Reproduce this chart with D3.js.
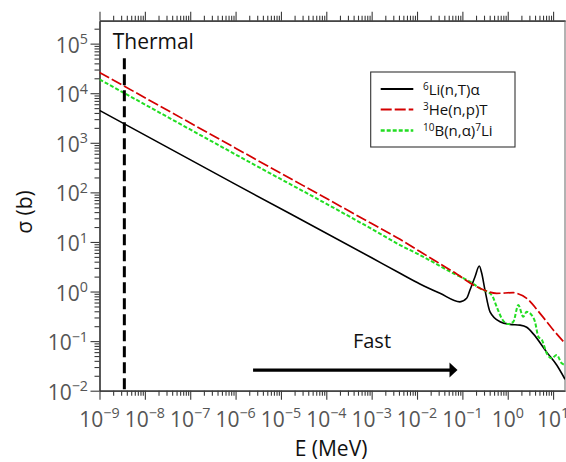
<!DOCTYPE html>
<html><head><meta charset="utf-8">
<script src="https://cdn.jsdelivr.net/npm/d3@7"></script>
<style>
body{margin:0;background:#fff}
svg{display:block}
text{font-family:"Open Sans",sans-serif}
</style>
</head><body>
<svg id="chart" width="566" height="462"></svg>
<script>
// ---- data ----
const liE     = [1e-9, 1e-6, 1e-3, 4.22e-3, 0.0116, 0.0321, 0.0885, 0.124, 0.147, 0.19, 0.236, 0.267, 0.315, 0.407, 0.675, 1.12, 1.86, 2.62, 3.66, 7.23, 12.0, 18.3];
const liSigma = [4500, 145, 4.8, 2.33, 1.42, 0.92, 0.62, 0.73, 1.07, 1.99, 3.27, 2.33, 1.07, 0.39, 0.246, 0.218, 0.21, 0.19, 0.14, 0.06, 0.033, 0.017];

const heE     = [1e-9, 1e-6, 1e-3, 4.22e-3, 0.0116, 0.063, 0.244, 0.571, 1.33, 1.57, 2.62, 5.14, 10.1, 18.3];
const heSigma = [26300, 780, 23.5, 11.3, 6.4, 2.5, 1.16, 0.92, 0.95, 0.92, 0.73, 0.363, 0.168, 0.09];

const bE      = [1e-9, 1e-6, 1e-3, 4.22e-3, 0.0116, 0.063, 0.147, 0.244, 0.443, 0.571, 0.736, 1.03, 1.33, 1.71, 2.20, 2.62, 3.37, 3.99, 4.72, 5.69, 7.23, 9.31, 12.0, 15.5, 18.3];
const bSigma  = [19000, 581, 18.3, 8.65, 5.45, 2.33, 1.58, 1.16, 0.85, 0.494, 0.288, 0.221, 0.246, 0.534, 0.31, 0.39, 0.336, 0.246, 0.123, 0.105, 0.0568, 0.045, 0.0525, 0.0357, 0.033];

const seriesNames = ["6Li(n,T)α", "3He(n,p)T", "10B(n,α)7Li"];
const xTickPowers = [-9, -8, -7, -6, -5, -4, -3, -2, -1, 0, 1];
const yTickPowers = [-2, -1, 0, 1, 2, 3, 4, 5];

// annotation anchors (data units)
const thermalE = 3.53e-9;
const fastStartE = 2.43e-6, fastEndE = 0.078, fastSigma = 0.0261;

// ---- layout ----
const svg = d3.select("#chart");
const L = 99.5, R = 565, T = 20.7, B = 390.7;
const x = d3.scaleLog().domain([1e-9, 18.3]).range([L, R]);
const y = d3.scaleLog().domain([1e-2, 2.9e5]).range([B, T]);

const axisCol = "#3a3a3a", labCol = "#555";

const isPow = v => Math.abs(Math.log10(v) - Math.round(Math.log10(v))) < 1e-6;
const xMinor = x.ticks(50).filter(v => !isPow(v));
const yMinor = y.ticks(50).filter(v => !isPow(v));
const xMajor = xTickPowers.map(p => Math.pow(10, p));
const yMajor = yTickPowers.map(p => Math.pow(10, p));

function styleAxis(g){
  g.select(".domain").attr("stroke", axisCol).attr("stroke-width", 1.2);
  g.selectAll(".tick line").attr("stroke", axisCol).attr("stroke-width", 1.1);
  g.selectAll(".tick text").remove();
}
// bottom
svg.append("g").attr("transform", `translate(0,${B})`)
  .call(d3.axisBottom(x).tickValues(xMinor).tickSize(5).tickSizeOuter(0).tickFormat("")).call(styleAxis);
svg.append("g").attr("transform", `translate(0,${B})`)
  .call(d3.axisBottom(x).tickValues(xMajor).tickSize(9).tickSizeOuter(0).tickFormat("")).call(styleAxis);
// top
svg.append("g").attr("transform", `translate(0,${T})`)
  .call(d3.axisTop(x).tickValues(xMinor).tickSize(5).tickSizeOuter(0).tickFormat("")).call(styleAxis);
svg.append("g").attr("transform", `translate(0,${T})`)
  .call(d3.axisTop(x).tickValues(xMajor).tickSize(9).tickSizeOuter(0).tickFormat("")).call(styleAxis);
// left
svg.append("g").attr("transform", `translate(${L},0)`)
  .call(d3.axisLeft(y).tickValues(yMinor).tickSize(5).tickSizeOuter(0).tickFormat("")).call(styleAxis);
svg.append("g").attr("transform", `translate(${L},0)`)
  .call(d3.axisLeft(y).tickValues(yMajor).tickSize(9).tickSizeOuter(0).tickFormat("")).call(styleAxis);
// right border
svg.append("line").attr("x1", R).attr("x2", R).attr("y1", T).attr("y2", B)
  .attr("stroke", "#666").attr("stroke-width", 1);

function supLabel(sel, p, size){
  sel.append("tspan").text("10");
  sel.append("tspan").attr("font-size", size*0.68).attr("dy", -size*0.4)
    .text(p < 0 ? "\u2212" + (-p) : String(p));
}
// x tick labels
xTickPowers.forEach(p => {
  const t = svg.append("text").attr("x", x(Math.pow(10,p))).attr("y", B + 36)
    .attr("text-anchor", "middle").attr("font-size", 21).attr("fill", labCol);
  supLabel(t, p, 21);
});
// y tick labels
yTickPowers.forEach(p => {
  const t = svg.append("text").attr("x", 88).attr("y", y(Math.pow(10,p)) + 9)
    .attr("text-anchor", "end").attr("font-size", 21).attr("fill", labCol);
  supLabel(t, p, 21);
});

// axis titles
svg.append("text").attr("x", 331).attr("y", 455.5).attr("text-anchor", "middle")
  .attr("font-size", 21).attr("fill", "#111").text("E (MeV)");
svg.append("text").attr("transform", "translate(32,212) rotate(-90)").attr("text-anchor", "middle")
  .attr("font-size", 21).attr("fill", "#111").text("σ (b)");

// curves
const line = d3.line().x(d => x(d[0])).y(d => y(d[1])).curve(d3.curveMonotoneX);
svg.append("clipPath").attr("id", "clip").append("rect")
  .attr("x", L).attr("y", T).attr("width", R - L).attr("height", B - T);
const series = [
  {E: liE, S: liSigma, color: "#000000", dash: null, w: 1.6},
  {E: heE, S: heSigma, color: "#d40000", dash: "11,3", w: 1.7},
  {E: bE,  S: bSigma,  color: "#22dd22", dash: "4,2", w: 2}
];
const plotG = svg.append("g").attr("clip-path", "url(#clip)");
[series[0], series[2], series[1]].forEach(s => {
  plotG.append("path").datum(s.E.map((e,i) => [e, s.S[i]]))
    .attr("d", line).attr("fill", "none").attr("stroke", s.color)
    .attr("stroke-width", s.w).attr("stroke-dasharray", s.dash);
});

// thermal marker
svg.append("line").attr("x1", x(thermalE)).attr("x2", x(thermalE))
  .attr("y1", 58.3).attr("y2", B).attr("stroke", "#000").attr("stroke-width", 3)
  .attr("stroke-dasharray", "11,5");
svg.append("text").attr("x", 112.7).attr("y", 49.3).attr("font-size", 21)
  .attr("fill", "#111").text("Thermal");

// fast arrow
const ay = y(fastSigma), ax0 = x(fastStartE), ax1 = x(fastEndE);
svg.append("line").attr("x1", ax0).attr("x2", ax1 - 6).attr("y1", ay).attr("y2", ay)
  .attr("stroke", "#000").attr("stroke-width", 3.2);
svg.append("path").attr("d", `M${ax1},${ay} L${ax1-8},${ay-7.5} L${ax1-8},${ay+7.5} Z`).attr("fill", "#000");
svg.append("text").attr("x", 372).attr("y", 348.3).attr("text-anchor", "middle")
  .attr("font-size", 20).attr("fill", "#111").text("Fast");

// legend
const lg = svg.append("g");
lg.append("rect").attr("x", 370.7).attr("y", 72).attr("width", 144.3).attr("height", 75)
  .attr("fill", "#fff").attr("stroke", "#333").attr("stroke-width", 1.1);
const legendParts = [
  [["6", true], ["Li(n,T)α", false]],
  [["3", true], ["He(n,p)T", false]],
  [["10", true], ["B(n,α)", false], ["7", true], ["Li", false]]
];
const rowsY = [89, 109.5, 130.5];
series.forEach((s, i) => {
  lg.append("line").attr("x1", 380.7).attr("x2", 413.3).attr("y1", rowsY[i]).attr("y2", rowsY[i])
    .attr("stroke", s.color).attr("stroke-width", s.w + 0.3).attr("stroke-dasharray", s.dash);
  const t = lg.append("text").attr("x", 423).attr("y", rowsY[i] + 5.5).attr("font-size", 15)
    .attr("fill", "#111").attr("data-name", seriesNames[i]);
  let sup = false;
  legendParts[i].forEach(([str, isSup]) => {
    const dy = isSup === sup ? 0 : (isSup ? -5 : 5);
    t.append("tspan").attr("dy", dy).attr("font-size", isSup ? 10 : 15).text(str);
    sup = isSup;
  });
});
</script>
</body></html>
